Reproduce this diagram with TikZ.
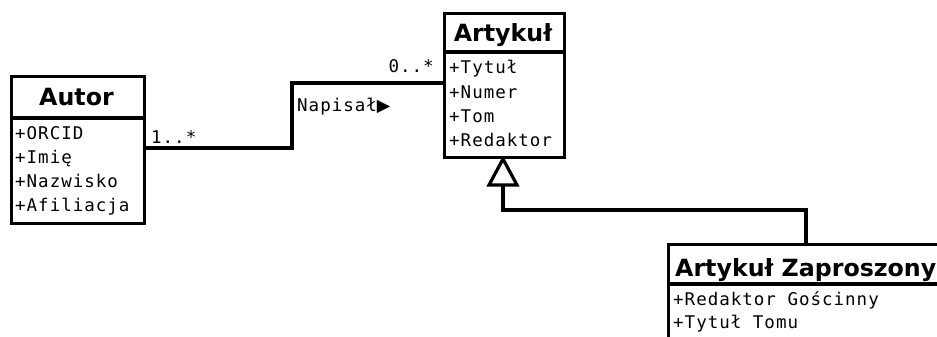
\documentclass[tikz,border=0pt]{standalone}
\usepackage{fontspec}
\setmainfont{DejaVu Sans}
\newfontfamily\attrfont{DejaVu Sans Mono}[LetterSpace=5.7]
\begin{document}
\begin{tikzpicture}[x=1pt,y=-1pt,
  classbox/.style={draw,line width=3.2pt,inner sep=0pt,anchor=north west},
  ctitle/.style={font=\fontsize{23.7}{28}\selectfont\bfseries,anchor=base,inner sep=0pt},
  attr/.style={font=\attrfont\fontsize{17.5}{21}\selectfont,anchor=base west,inner sep=0pt},
  wire/.style={line width=3.2pt},
  lbl/.style={font=\attrfont\fontsize{17.5}{21}\selectfont,inner sep=0pt}]
\useasboundingbox (0,0) rectangle (937,337);
\clip (0,0) rectangle (937,337);

% class Autor
\node[classbox,minimum width=133pt,minimum height=147pt] (autor) at (10,75) {};
\draw[wire] (autor.west |- 0,118) -- (autor.east |- 0,118);
\node[ctitle] (autorT) at (76.5,106) {Autor};
\node[attr] (a1) at (15,139) {+ORCID};
\node[attr] (a2) at (15,163) {+Imię};
\node[attr] (a3) at (15,187) {+Nazwisko};
\node[attr] (a4) at (15,211) {+Afiliacja};

% class Artykuł
\node[classbox,minimum width=120pt,minimum height=144pt] (art) at (443,12) {};
\draw[wire] (art.west |- 0,52) -- (art.east |- 0,52);
\node[ctitle] (artT) at (503,42) {Artykuł};
\node[attr] (b1) at (449,74) {+Tytuł};
\node[attr] (b2) at (449,98) {+Numer};
\node[attr] (b3) at (449,122) {+Tom};
\node[attr] (b4) at (449,146) {+Redaktor};

% class Artykuł Zaproszony (runs off the page)
\node[classbox,minimum width=300pt,minimum height=120pt] (zap) at (667,243) {};
\draw[wire] (zap.west |- 0,284) -- (zap.east |- 0,284);
\node[ctitle,anchor=base west] (zapT) at (675,276) {Artykuł Zaproszony};
\node[attr] (c1) at (673,305) {+Redaktor Gościnny};
\node[attr] (c2) at (673,328) {+Tytuł Tomu};

% association Autor -- Artykuł
\coordinate (p1) at (autor.east |- 0,148);
\coordinate (p2) at (art.west |- 0,83);
\draw[wire] (p1) -- (292,148) |- (p2);
\node[lbl,anchor=base west] (m1) at (151,143) {1..*};
\node[lbl,anchor=base east] (m2) at (434,73) {0..*};
\node[lbl,anchor=base west] (nap) at (297,111) {Napisał{\fontspec{DejaVu Sans}▶}};

% generalization Artykuł Zaproszony --|> Artykuł
\coordinate (tip) at (503,159);
\coordinate (base) at (503,185);
\draw[wire] (zap.north -| 806,0) |- (503,210) -- (base);
\draw[wire,fill=white,line join=miter] (tip) -- (517,185) -- (489,185) -- cycle;
\end{tikzpicture}
\end{document}
